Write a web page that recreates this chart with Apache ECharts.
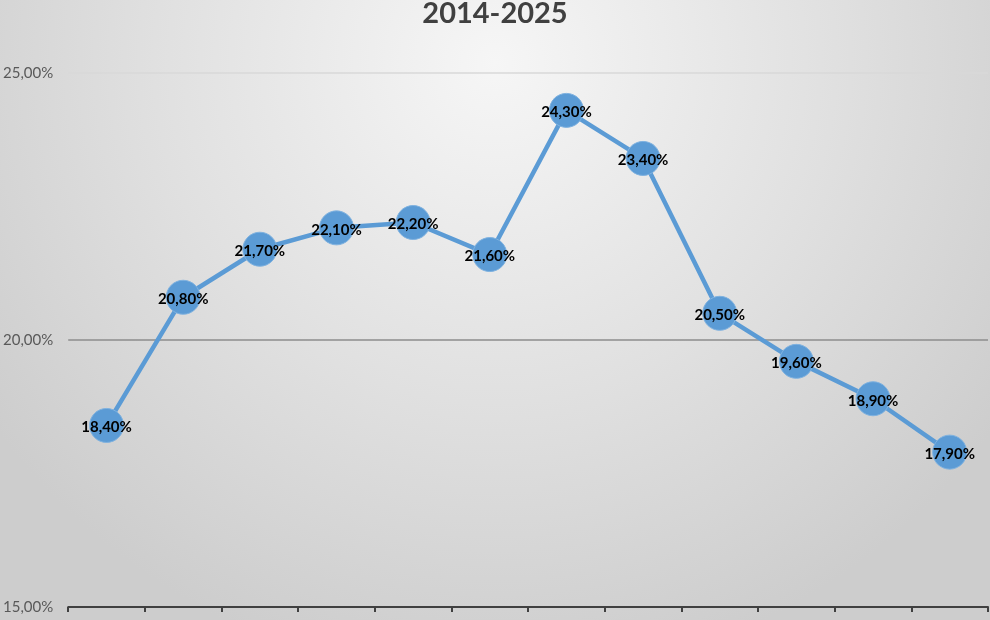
<!DOCTYPE html>
<html><head><meta charset="utf-8">
<script src="https://cdn.jsdelivr.net/npm/echarts@6/dist/echarts.min.js"></script>
<style>html,body{margin:0;padding:0;}#c{width:990px;height:620px;}</style>
</head><body><div id="c"></div>
<script>
const titleText = '2014-2025';
const categories = ['2014','2015','2016','2017','2018','2019','2020','2021','2022','2023','2024','2025'];
const values = [18.4, 20.8, 21.7, 22.1, 22.2, 21.6, 24.3, 23.4, 20.5, 19.6, 18.9, 17.9];
const yTicks = [15, 20, 25];

const chart = echarts.init(document.getElementById('c'), null, {renderer: 'canvas'});
chart.setOption({
  backgroundColor: new echarts.graphic.RadialGradient(0.5, 0.1, 1.0, [
    {offset: 0, color: '#f6f6f6'},
    {offset: 0.55, color: '#e0e0e0'},
    {offset: 1, color: '#cdcdcd'}
  ]),
  title: {
    text: titleText, left: 'center', top: -6,
    textStyle: {fontFamily: 'Lato', fontWeight: 'bold', fontSize: 29, color: '#404040'}
  },
  grid: {left: 68, right: 2, top: 73, bottom: 13, containLabel: false},
  xAxis: {
    type: 'category', data: categories, boundaryGap: true,
    axisLine: {lineStyle: {color: '#404040', width: 2}},
    axisTick: {show: true, length: 5, alignWithLabel: false, lineStyle: {color: '#404040', width: 2}},
    axisLabel: {show: false}
  },
  yAxis: {
    type: 'value', min: yTicks[0], max: yTicks[yTicks.length - 1], interval: 5,
    axisLine: {show: false}, axisTick: {show: false},
    axisLabel: {
      margin: 15, color: '#595959', fontFamily: 'Lato', fontSize: 15,
      formatter: v => v.toFixed(2).replace('.', ',') + '%'
    },
    splitLine: {show: true, lineStyle: {color: ['rgba(0,0,0,0)', '#8c8c8c', '#d9d9d9'], width: 1.5}}
  },
  series: [{
    type: 'line', data: values,
    symbol: 'circle', symbolSize: 34,
    lineStyle: {color: '#5b9bd5', width: 4.5},
    itemStyle: {color: '#5b9bd5', borderColor: '#7fb2e0', borderWidth: 1},
    label: {
      show: true, position: 'inside', offset: [0, 2], color: '#000', fontFamily: 'Lato', fontWeight: 'bold', fontSize: 15,
      formatter: p => p.value.toFixed(2).replace('.', ',') + '%'
    },
    emphasis: {disabled: true},
    animation: false
  }]
});
</script></body></html>
